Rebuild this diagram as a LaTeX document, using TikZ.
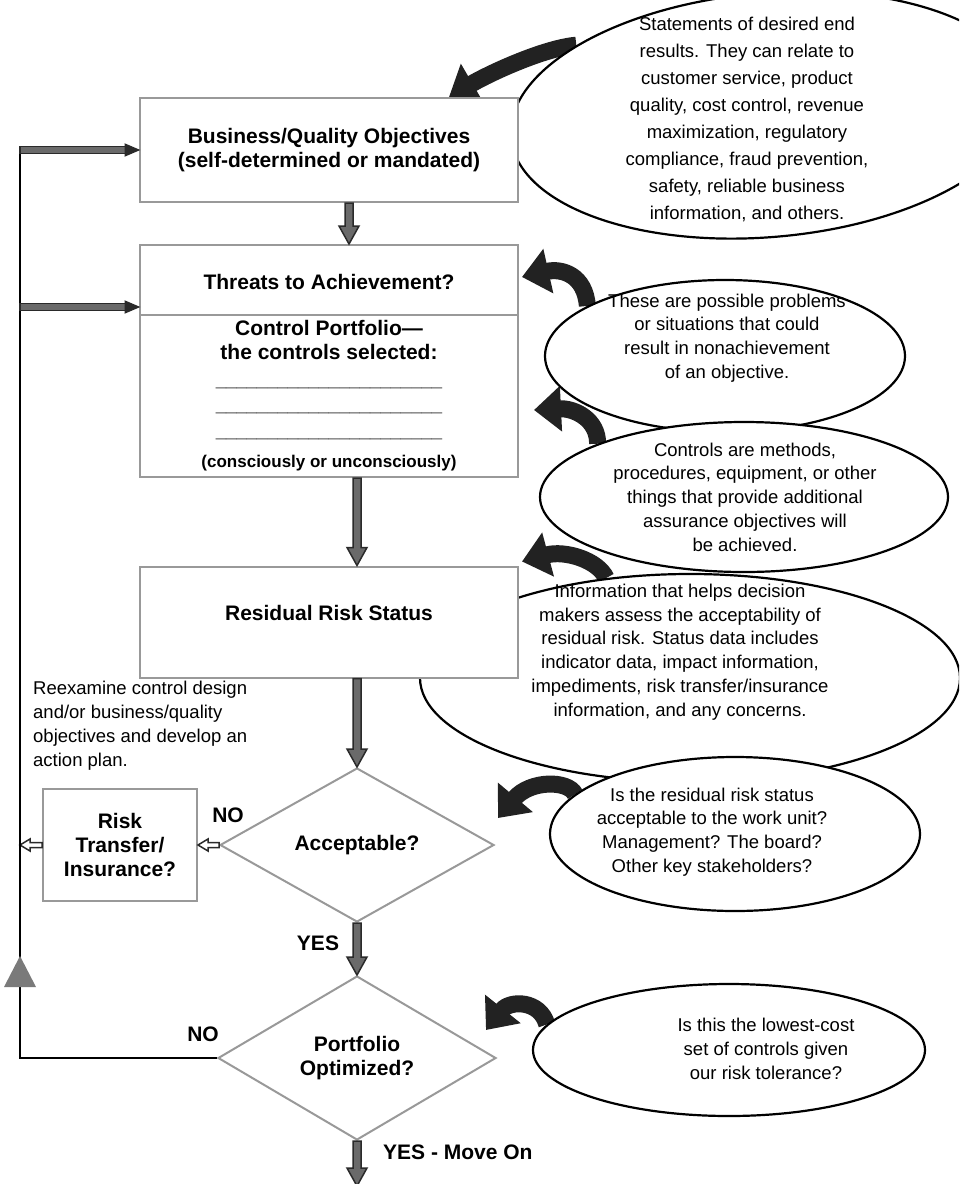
\documentclass[tikz,border=0pt]{standalone}
\usepackage{fontspec}
\setmainfont{Liberation Sans}
\usetikzlibrary{shapes.geometric,arrows.meta,calc,backgrounds}

\definecolor{boxgray}{HTML}{999999}
\definecolor{shaftgray}{HTML}{6a6a6a}
\definecolor{edgedark}{HTML}{2a2a2a}
\definecolor{curvefill}{HTML}{222222}
\definecolor{tri}{HTML}{7a7a7a}

\newcommand\boldtext{\fontsize{21}{24}\selectfont\bfseries}
\newcommand\bodytext{\fontsize{18.5}{23.8}\selectfont}
\newcommand\loosetext{\fontsize{18.5}{27}\selectfont}
\newcommand\smallbold{\fontsize{17}{20}\selectfont\bfseries}

% thick downward block arrow between two points
\newcommand\blockdown[2]{%
  \path let \p1=(#1), \p2=(#2) in
    [fill=shaftgray, draw=edgedark, line width=1.5pt, line join=miter]
    (\x1-4pt,\y1) -- (\x1-4pt,\y2+18pt) -- (\x1-10pt,\y2+18pt) -- (\x1,\y2)
    -- (\x1+10pt,\y2+18pt) -- (\x1+4pt,\y2+18pt) -- (\x1+4pt,\y1) -- cycle;}

% feedback arrow pointing right with a dark head
\newcommand\feedright[2]{%
  \path let \p1=(#1), \p2=(#2) in
    [fill=shaftgray, draw=edgedark, line width=1.5pt]
    (\x1,\y1+3.5pt) -- (\x2-13pt,\y1+3.5pt) -- (\x2-13pt,\y1-3.5pt) -- (\x1,\y1-3.5pt) -- cycle;
  \path let \p1=(#1), \p2=(#2) in
    [fill=edgedark, draw=edgedark, line width=1pt, line join=miter]
    (\x2-14pt,\y1+6pt) -- (\x2,\y1) -- (\x2-14pt,\y1-6pt) -- cycle;}

% small outlined arrow pointing left
\newcommand\hollowleft[2]{%
  \path let \p1=(#1), \p2=(#2) in
    [fill=white, draw=edgedark, line width=1.5pt, line join=miter]
    (\x1,\y1+2.5pt) -- (\x2+10pt,\y1+2.5pt) -- (\x2+10pt,\y1+6pt) -- (\x2,\y1)
    -- (\x2+10pt,\y1-6pt) -- (\x2+10pt,\y1-2.5pt) -- (\x1,\y1-2.5pt) -- cycle;}

\begin{document}
\begin{tikzpicture}[x=1pt,y=-1pt,
  box/.style={rectangle, draw=boxgray, line width=2pt, fill=white, inner sep=0pt,
    align=center, font=\boldtext},
  bubble/.style={ellipse, draw=black, line width=2.2pt, fill=white, inner sep=0pt},
  bubbletext/.style={align=center, font=\bodytext, inner sep=0pt},
  dia/.style={diamond, draw=boxgray, line width=2pt, fill=white, inner sep=0pt,
    align=center, font=\boldtext},
  lbl/.style={font=\boldtext, inner sep=0pt},
  note/.style={align=left, font=\bodytext, inner sep=0pt},
  bendarrow/.style={draw=curvefill, line width=17pt,
    -{Triangle[length=27pt,width=44pt]}},
  loopline/.style={draw=black, line width=2.5pt}]

\useasboundingbox (0,0) rectangle (959,1184);
\clip (0,0) rectangle (959,1184);

% explanatory bubbles
\node[bubble, minimum width=516, minimum height=244, rotate=5] (e1) at (768,115) {};
\node[bubble, minimum width=360, minimum height=152] (e2) at (725,356) {};
\node[bubble, minimum width=408, minimum height=150] (e3) at (744,497) {};
\node[bubble, minimum width=540, minimum height=208] (e4) at (690,678) {};
\node[bubble, minimum width=370, minimum height=154] (e5) at (735,834) {};
\node[bubble, minimum width=392, minimum height=132] (e6) at (729,1050) {};

\node[bubbletext, font=\loosetext] (t1) at (747,119) {Statements of desired end\\results. They can relate to\\customer service, product\\quality, cost control, revenue\\maximization, regulatory\\compliance, fraud prevention,\\safety, reliable business\\information, and others.};
\node[bubbletext] (t2) at (727,338) {These are possible problems\\or situations that could\\result in nonachievement\\of an objective.};
\node[bubbletext] (t3) at (745,497) {Controls are methods,\\procedures, equipment, or other\\things that provide additional\\assurance objectives will\\be achieved.};
\node[bubbletext] (t4) at (680,652) {Information that helps decision\\makers assess the acceptability of\\residual risk. Status data includes\\indicator data, impact information,\\impediments, risk transfer/insurance\\information, and any concerns.};
\node[bubbletext] (t5) at (712,832) {Is the residual risk status\\acceptable to the work unit?\\Management? The board?\\Other key stakeholders?};
\node[bubbletext] (t6) at (766,1049) {Is this the lowest-cost\\set of controls given\\our risk tolerance?};

% process boxes
\node[box, minimum width=378, minimum height=104] (obj) at (329,150)
  {Business/Quality Objectives\\(self-determined or mandated)};
\node[box, minimum width=378, minimum height=70] (thr) at (329,280)
  {\raisebox{-2pt}[\height][\depth]{Threats to Achievement?}};
\node[box, minimum width=378, minimum height=162] (port) at (329,396)
  {Control Portfolio---\\the controls selected:\\[3pt]
   {\bodytext\_\_\_\_\_\_\_\_\_\_\_\_\_\_\_\_\_\_\_\_\_\_}\\[1pt]
   {\bodytext\_\_\_\_\_\_\_\_\_\_\_\_\_\_\_\_\_\_\_\_\_\_}\\[2pt]
   {\bodytext\_\_\_\_\_\_\_\_\_\_\_\_\_\_\_\_\_\_\_\_\_\_}\\[6pt]
   {\smallbold(consciously or unconsciously)}};
\node[box, minimum width=378, minimum height=111] (res) at (329,622)
  {\raisebox{9pt}[\height][\depth]{Residual Risk Status}};
\node[box, minimum width=154, minimum height=112] (rt) at (120,845)
  {Risk\\Transfer/\\Insurance?};

% decisions
\node[dia, minimum width=274, minimum height=154] (acc) at (357,845) {Acceptable?};
\node[dia, minimum width=278, minimum height=164] (opt) at (357,1058) {Portfolio\\Optimized?};

% labels
\node[lbl] (no1) at (228,815) {NO};
\node[lbl] (yes1) at (318,943) {YES};
\node[lbl] (no2) at (203,1034) {NO};
\node[lbl, anchor=west] (yes2) at (383,1152) {YES - Move On};
\node[note, anchor=north west] (reex) at (33,681)
  {Reexamine control design\\and/or business/quality\\objectives and develop an\\action plan.};

% main flow
\blockdown{[xshift=20pt]obj.south}{[xshift=20pt]thr.north}
\blockdown{[xshift=28pt]port.south}{[xshift=28pt]res.north}
\blockdown{[xshift=28pt]res.south}{acc.north}
\blockdown{acc.south}{opt.north}
\coordinate (moveon) at (357,1186);
\blockdown{opt.south}{moveon}

% rejection branch
\coordinate (loopx) at (20,0);
\hollowleft{acc.west}{rt.east}
\hollowleft{rt.west}{loopx |- rt.west}

% feedback loop
\coordinate (ltop) at (loopx |- obj.west);
\coordinate (pin) at ($(thr.south west)+(0,-9)$);
\draw[loopline] (opt.west) -| (ltop);
\feedright{ltop}{obj.west}
\feedright{loopx |- pin}{pin}
\coordinate (mark) at (loopx |- 0,972);
\fill[tri] ($(mark)+(0,-16)$) -- ($(mark)+(-16,15)$) -- ($(mark)+(16,15)$) -- cycle;

% curved pointers from the bubbles
\begin{pgfonlayer}{background}
\draw[bendarrow] (e1.155) .. controls (545,48) and (492,72) .. ($(obj.north east)+(-70,0)$);
\draw[bendarrow] (e2.160) .. controls (585,275) and (562,268) .. ($(thr.north east)+(3,33)$);
\draw[bendarrow] (e3.160) .. controls (598,420) and (575,408) .. ($(port.south east)+(15,-68)$);
\draw[bendarrow] (e4.130) .. controls (598,560) and (565,550) .. ($(res.north east)+(3,-4)$);
\draw[bendarrow] (e5.166) .. controls (568,780) and (530,780) .. ($(acc.east)+(3,-27)$);
\draw[bendarrow] (e6.172) .. controls (540,1000) and (510,1000) .. ($(opt.east)+(-11,-28)$);
\end{pgfonlayer}
\end{tikzpicture}
\end{document}
